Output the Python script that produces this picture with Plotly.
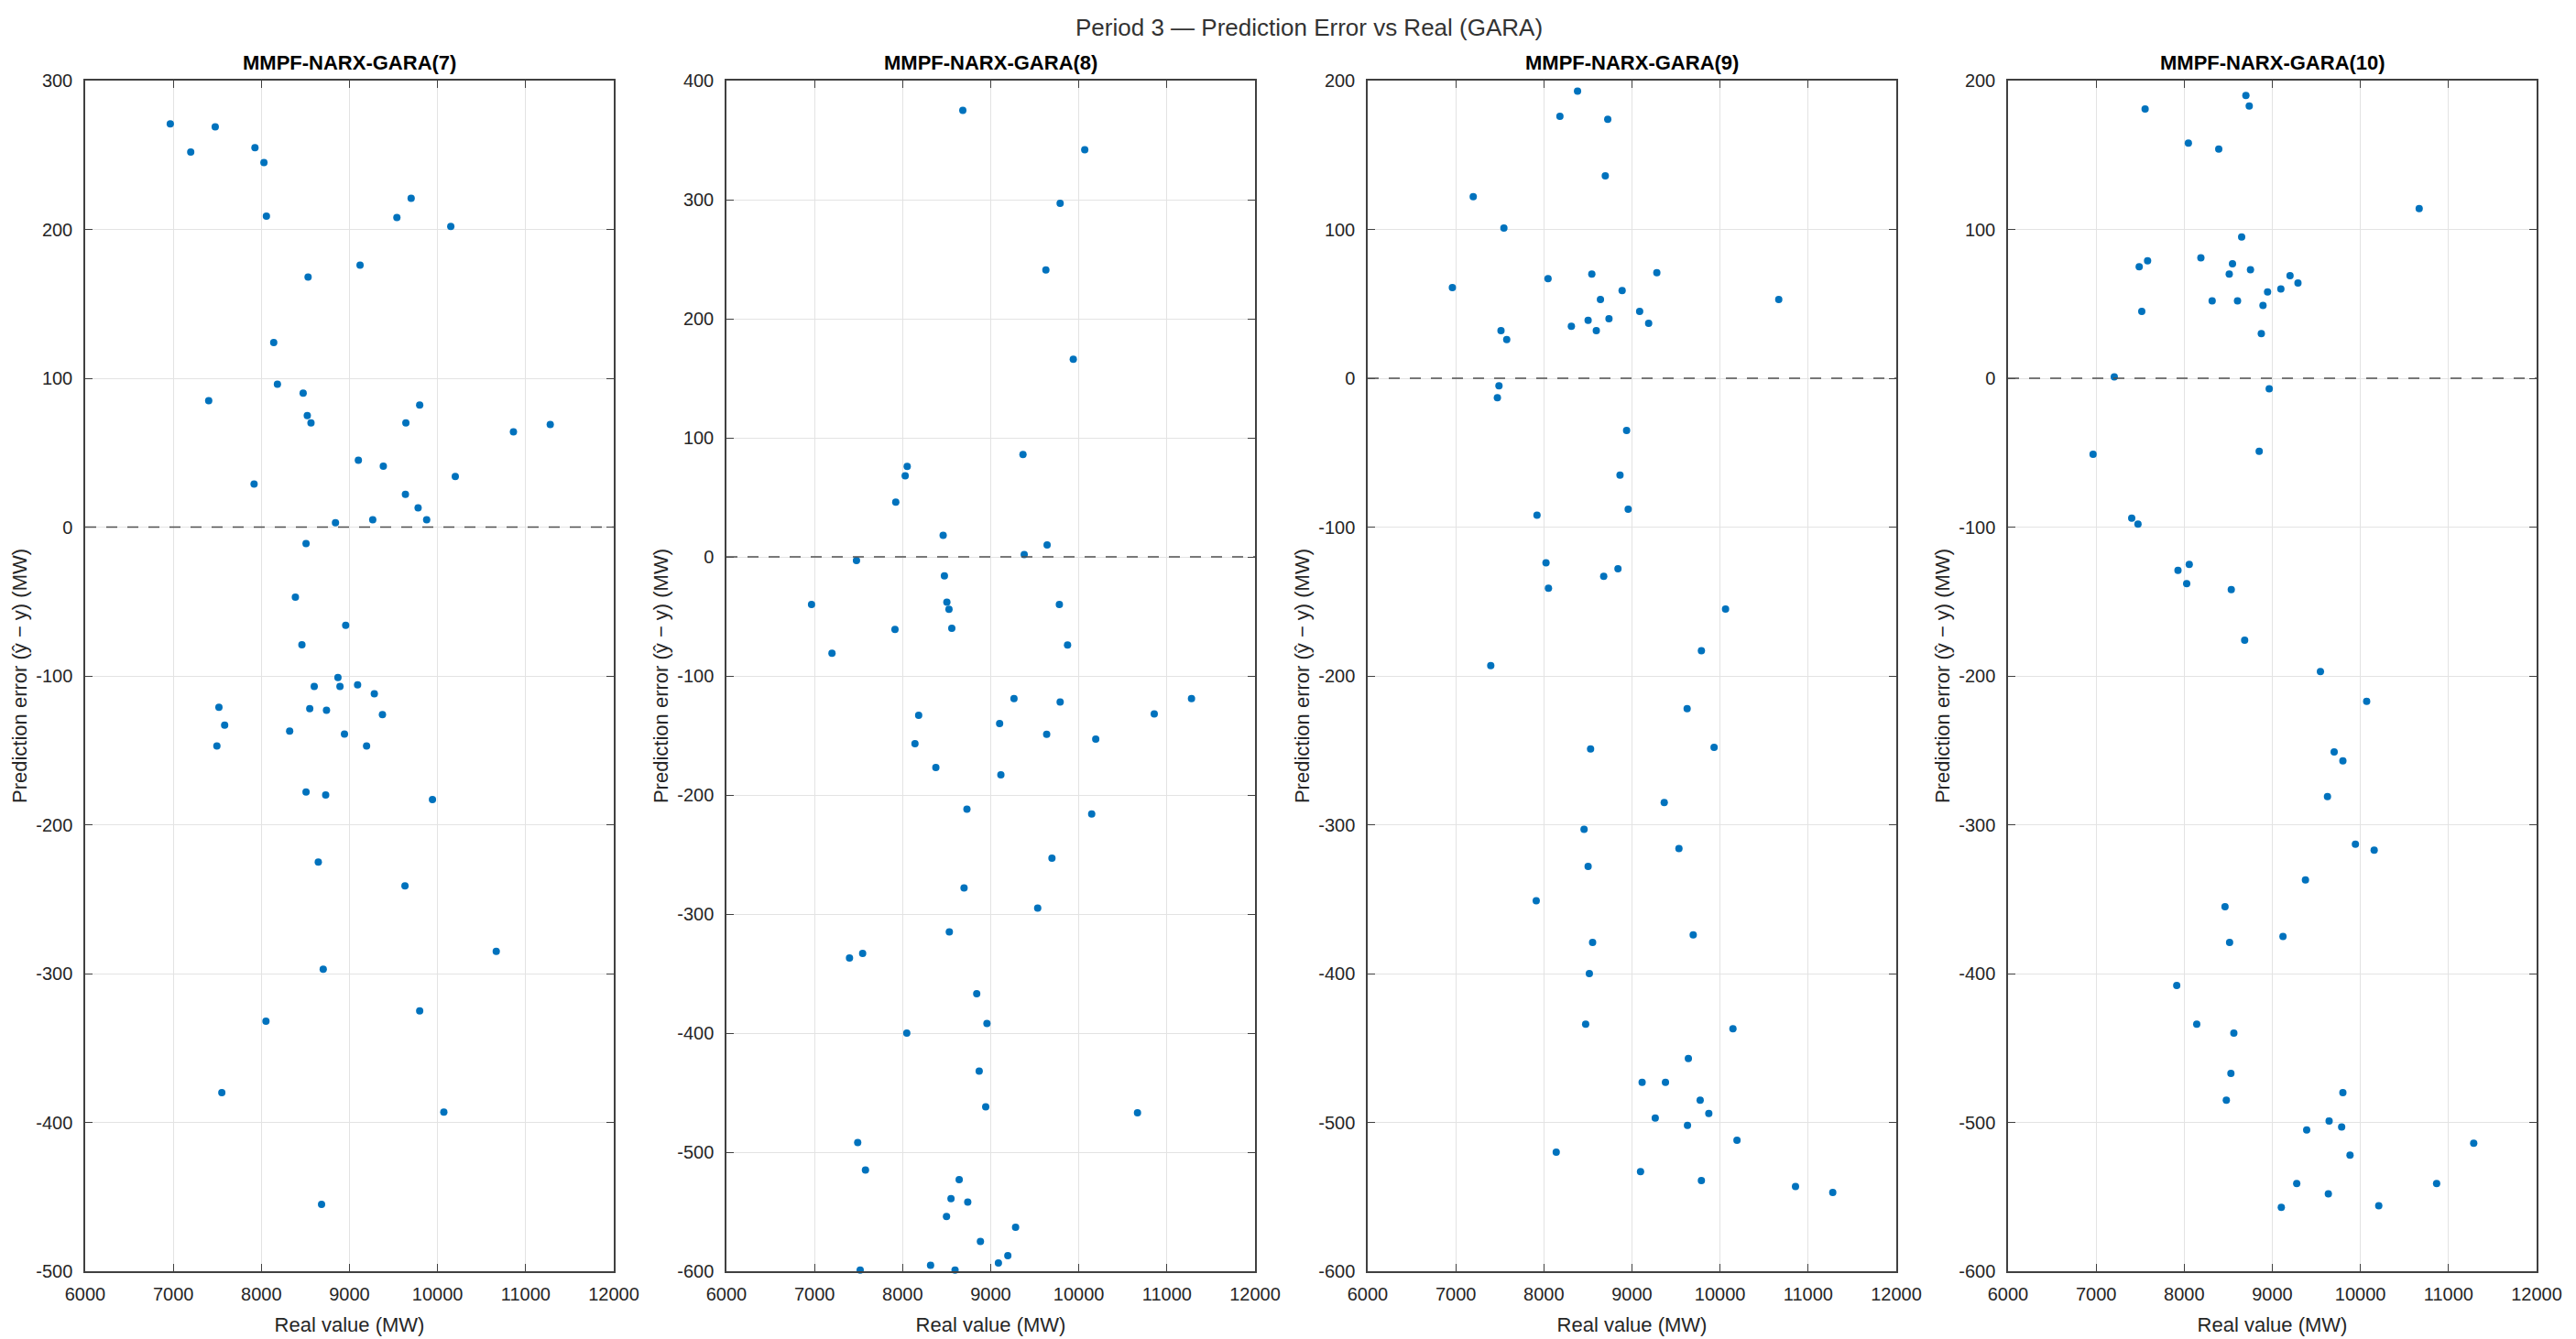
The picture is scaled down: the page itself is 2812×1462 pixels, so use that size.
import plotly.graph_objects as go
from plotly.subplots import make_subplots

# ---------------- data ----------------
panel_titles = ["MMPF-NARX-GARA(7)", "MMPF-NARX-GARA(8)", "MMPF-NARX-GARA(9)", "MMPF-NARX-GARA(10)"]

x7 = [6966, 7198, 7476, 7927, 8029, 8057, 9700, 9538, 10150, 9120, 8530, 8140, 8182, 8474, 7402, 8521, 8563,
      9797, 9640, 10861, 11279, 9101, 9384, 10201, 7917, 9635, 9779, 9876, 9264, 8841, 8507, 8386, 8957, 8460,
      8869, 8600, 8892, 9092, 9282, 7518, 8549, 8739, 9374, 7583, 8321, 8943, 7495, 9194, 8507, 8730, 9942,
      8646, 9630, 10666, 8702, 9797, 8052, 7551, 10071, 8683]
e7 = [271, 252, 269, 255, 245, 209, 221, 208, 202, 176, 168, 124, 96, 90, 85, 75, 70, 82, 70, 64, 69, 45, 41,
      34, 29, 22, 13, 5, 5, 3, -11, -47, -66, -79,
      -101, -107, -107, -106, -112, -121, -122, -123, -126, -133, -137, -139, -147, -147, -178, -180, -183,
      -225, -241, -285, -297, -325, -332, -380, -393, -455]

x8 = [8683, 10067, 9788, 9626, 9937, 9366, 8052, 8029, 7922, 8460, 9640, 9380, 7476, 8474, 6966, 8502, 8526,
      9779, 7913, 8558, 9872, 7198,
      9264, 11279, 9788, 8182, 10856, 9101, 9635, 8140, 10192, 8377, 9115, 8730, 10146, 9695, 8697, 9533, 8530,
      7397, 7546, 8841, 8957, 8047, 8869, 8943, 10666, 7490, 7578, 8642, 8549, 8739, 8498, 9282, 8883, 9194,
      9087, 8317, 7518, 8595]
e8 = [375, 342, 297, 241, 166, 86, 76, 68, 46, 18, 10, 2, -3, -16, -40, -38, -44, -40, -61, -60, -74, -81,
      -119, -119, -122, -133, -132, -140, -149, -157, -153, -177, -183, -212, -216, -253, -278, -295, -315,
      -337, -333, -367, -392, -400, -432, -462, -467, -492, -515, -523, -539, -542, -554, -563, -575, -587,
      -593, -595, -599, -599]

x9 = [8382, 8182, 8725, 8697, 7198, 7546, 6961, 8047, 8544, 9282, 8888, 8642, 10666, 9087, 8502, 8739, 9189,
      8312, 8595, 7513, 7578, 7490, 7472, 8939, 8864, 8957, 7922, 8024, 8841, 8052, 8679, 10062, 9788,
      7397, 9626, 8530, 9932, 9366, 8456, 9533, 8502, 7913, 9695, 8553, 8516, 8474, 10146, 9640, 9115, 9380,
      9774, 9872, 9264, 9630, 10192, 8140, 9097, 9788, 10856, 11279]
e9 = [193, 176, 174, 136, 122, 101, 61, 67, 70, 71, 59, 53, 53, 45, 39, 40, 37, 35, 32, 32, 26, -5, -13, -35,
      -65, -88, -92, -124, -128, -141, -133, -155, -183,
      -193, -222, -249, -248, -285, -303, -316, -328, -351, -374, -379, -400, -434, -437, -457, -473, -473,
      -485, -494, -497, -502, -512, -520, -533, -539, -543, -547]

x10 = [8700, 8738, 7556, 8047, 8392, 10667, 8652, 8189, 7584, 7489, 8548, 8752, 8511, 9201, 9291, 9097, 8946,
       8317, 8605, 8894, 7518, 8875, 7206, 8965, 6965, 8851, 7404, 7475, 8057, 7929, 8028, 8534, 8686,
       9546, 10071, 9702, 9801, 9626, 9943, 10156, 9376, 8463, 9121, 8515, 7915, 8142, 8563, 8530, 9801, 8478,
       9645, 9390, 9787, 11286, 9882, 9277, 10865, 9636, 9102, 10208]
e10 = [190, 183, 181, 158, 154, 114, 95, 81, 79, 75, 77, 73, 70, 69, 64, 60, 58, 52, 52, 49, 45, 30, 1, -7,
       -51, -49, -94, -98, -125, -129, -138, -142, -176,
       -197, -217, -251, -257, -281, -313, -317, -337, -355, -375, -379, -408, -434, -440, -467, -480, -485,
       -499, -505, -503, -514, -522, -541, -541, -548, -557, -556]

x_ticks = [6000, 7000, 8000, 9000, 10000, 11000, 12000]
y_ticks7 = [-500, -400, -300, -200, -100, 0, 100, 200, 300]
y_ticks8 = [-600, -500, -400, -300, -200, -100, 0, 100, 200, 300, 400]
y_ticks9 = [-600, -500, -400, -300, -200, -100, 0, 100, 200]
y_ticks10 = [-600, -500, -400, -300, -200, -100, 0, 100, 200]

main_title = "Period 3 \u2014 Prediction Error vs Real (GARA)"
x_label = "Real value (MW)"
y_label = "Prediction error (\u0177 \u2212 y) (MW)"

# ---------------- figure ----------------
W, H = 2812, 1462
FONT = "Liberation Sans, Arial, Helvetica, sans-serif"
AXC = "#404040"
TXT = "#262626"

panels = [(x7, e7, y_ticks7), (x8, e8, y_ticks8), (x9, e9, y_ticks9), (x10, e10, y_ticks10)]
x_doms_px = [(93, 670), (793, 1370), (1493, 2070), (2192, 2769)]
y_dom = [1 - 1388 / H, 1 - 88 / H]

fig = make_subplots(rows=1, cols=4)

for i, (xs, es, yt) in enumerate(panels):
    fig.add_trace(go.Scatter(x=xs, y=es, mode="markers",
                             marker=dict(color="#0072BD", size=8, line=dict(width=0)),
                             cliponaxis=False, showlegend=False, hoverinfo="x+y"),
                  row=1, col=i + 1)
    fig.add_hline(y=0, line=dict(color="#505050", width=1.6, dash="12px,11px"), row=1, col=i + 1)

    dom = [x_doms_px[i][0] / W, x_doms_px[i][1] / W]
    sfx = "" if i == 0 else str(i + 1)
    fig.layout["xaxis" + sfx].update(
        domain=dom, range=[x_ticks[0], x_ticks[-1]],
        tickvals=x_ticks, ticktext=[str(v) for v in x_ticks],
        showgrid=True, gridcolor="#e3e3e3", gridwidth=1, zeroline=False,
        showline=True, linecolor=AXC, linewidth=1.5, mirror="allticks",
        ticks="inside", ticklen=8, tickwidth=1.2, tickcolor=AXC,
        tickfont=dict(family=FONT, size=20, color=TXT), ticklabelstandoff=6,
        title=dict(text=x_label, font=dict(family=FONT, size=22, color=TXT), standoff=16),
        automargin=False,
    )
    fig.layout["yaxis" + sfx].update(
        domain=y_dom, range=[yt[0], yt[-1]],
        tickvals=yt, ticktext=[str(v) for v in yt],
        showgrid=True, gridcolor="#e3e3e3", gridwidth=1, zeroline=False,
        showline=True, linecolor=AXC, linewidth=1.5, mirror="allticks",
        ticks="inside", ticklen=8, tickwidth=1.2, tickcolor=AXC,
        tickfont=dict(family=FONT, size=20, color=TXT), ticklabelstandoff=8,
        title=dict(text=y_label, font=dict(family=FONT, size=22, color=TXT), standoff=4),
        automargin=False,
    )
    fig.add_annotation(x=(dom[0] + dom[1]) / 2, y=1 - 69 / H, xref="paper", yref="paper",
                       text="<b>" + panel_titles[i] + "</b>", showarrow=False,
                       xanchor="center", yanchor="middle",
                       font=dict(family=FONT, size=22, color="#000000"))

fig.add_annotation(x=1429 / W, y=1 - 30 / H, xref="paper", yref="paper", text=main_title,
                   showarrow=False, xanchor="center", yanchor="middle",
                   font=dict(family=FONT, size=26, color="#333333"))

fig.update_layout(width=W, height=H, margin=dict(l=0, r=0, t=0, b=0),
                  paper_bgcolor="white", plot_bgcolor="white",
                  font=dict(family=FONT, color=TXT), showlegend=False)

fig.write_html("out.html")
